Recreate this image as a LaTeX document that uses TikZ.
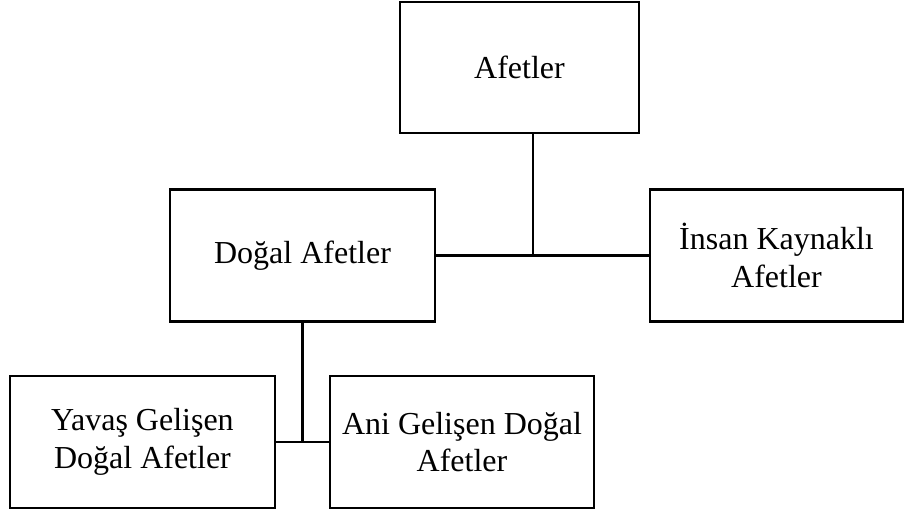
\documentclass[tikz,border=0pt]{standalone}
\usepackage{fontspec}
\setmainfont{Liberation Serif}
\usetikzlibrary{positioning}

\begin{document}
\begin{tikzpicture}
    [x=0.75pt,y=-0.75pt,
    box/.style={rectangle,draw=black,line width=1.9pt,fill=white,
                align=center,inner sep=0pt,outer sep=0pt,minimum height=99pt,
                font=\fontsize{24}{28}\selectfont},
    link/.style={line width=1.9pt}]

    \useasboundingbox (0,0) rectangle (904,512);

    \node[box,minimum width=179.25pt,minimum height=98.25pt] (afetler) at (519.5,67.5) {Afetler};
    \node[box,minimum width=198.75pt] (dogal) at (302.5,255.5) {Doğal Afetler};
    \node[box,minimum width=189.75pt] (insan) at (776.5,255.5) {İnsan Kaynaklı\\Afetler};

    \node[box,minimum width=198.75pt] (yavas) at (142.5,442) {Yavaş Gelişen\\Doğal Afetler};
    \node[box,minimum width=198pt] (ani) [right=41.25pt of yavas] {Ani Gelişen Doğal\\Afetler};

    \coordinate (joint) at (533,255.5);
    \draw[link] (afetler.south -| joint) -- (joint);
    \draw[link] (dogal) -- (insan);
    \draw[link] (dogal) -- (dogal |- yavas);
    \draw[link] (yavas) -- (ani);
\end{tikzpicture}
\end{document}
